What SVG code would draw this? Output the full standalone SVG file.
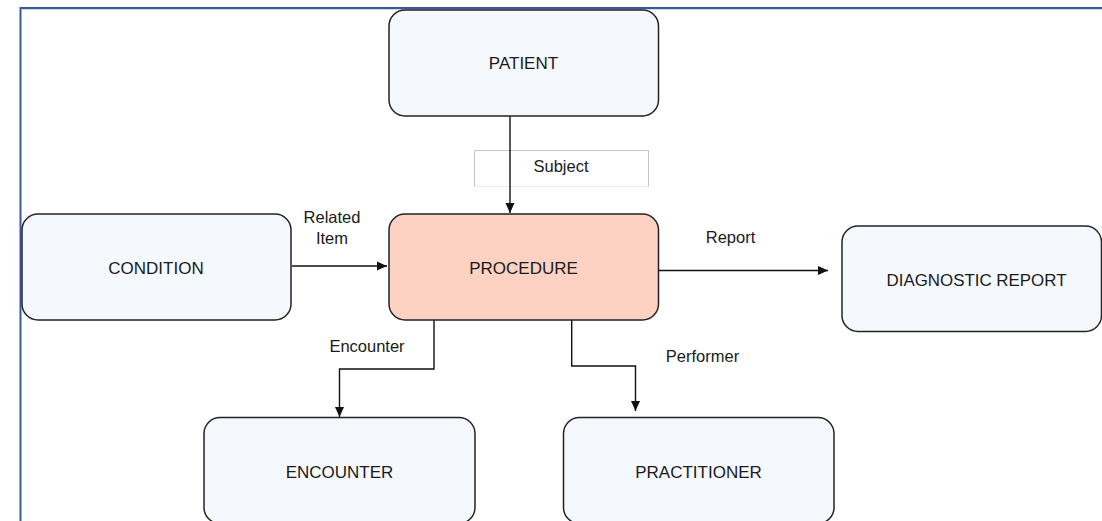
<svg xmlns="http://www.w3.org/2000/svg" width="1102" height="521" viewBox="0 0 1102 521">
  <defs>
    <marker id="arrow" viewBox="0 0 10 10" refX="10" refY="5" markerWidth="10" markerHeight="10" markerUnits="userSpaceOnUse" orient="auto">
      <path d="M0,0.5 L10,5 L0,9.5 z" fill="#111"/>
    </marker>
    <style>
      .node { fill: #F5F9FE; stroke: #222; stroke-width: 1.5; }
      .focus { fill: #FDD2C3; stroke: #222; stroke-width: 1.5; }
      .title { font-family: "Liberation Sans", Arial, sans-serif; font-size: 17px; fill: #1a1a1a; text-anchor: middle; }
      .label { font-family: "Liberation Sans", Arial, sans-serif; font-size: 16.5px; fill: #1a1a1a; text-anchor: middle; }
      .edge { fill: none; stroke: #111; stroke-width: 1.4; marker-end: url(#arrow); }
    </style>
  </defs>

  <rect width="1102" height="521" fill="#ffffff"/>

  <!-- outer frame -->
  <path d="M1102 9.5 H22" stroke="#C9D7EE" stroke-width="1" fill="none"/>
  <path d="M1102 8 H20.5 V521" stroke="#3C5A98" stroke-width="2" fill="none"/>

  <!-- caption box for the Subject link -->
  <g id="subject-caption">
    <rect x="474.5" y="150.5" width="174" height="36" fill="#ffffff" stroke="none"/>
    <path d="M474.5 186.5 V150.5 H648.5 V186.5" fill="none" stroke="#C4C4C4" stroke-width="1"/>
    <path d="M474.5 186.5 H648.5" fill="none" stroke="#EAEAEA" stroke-width="1"/>
  </g>

  <g id="connectors">
    <path class="edge" d="M510 116 V213"/>
    <path class="edge" d="M292 266 H387"/>
    <path class="edge" d="M658 270.5 H828"/>
    <path class="edge" d="M434 320 V369 H339.5 V417"/>
    <path class="edge" d="M571.7 320 V366 H635.5 V411"/>
    <text class="label" x="561" y="172">Subject</text>
    <text class="label" x="332" y="223">Related</text>
    <text class="label" x="332" y="244">Item</text>
    <text class="label" x="730.5" y="243">Report</text>
    <text class="label" x="367" y="352">Encounter</text>
    <text class="label" x="702.5" y="362">Performer</text>
  </g>

  <g id="patient">
    <rect class="node" x="389" y="10" width="269.5" height="106" rx="16"/>
    <text class="title" x="523.5" y="69">PATIENT</text>
  </g>

  <g id="procedure">
    <rect class="focus" x="389" y="214" width="269.5" height="106" rx="16"/>
    <text class="title" x="523.5" y="273.5">PROCEDURE</text>
  </g>

  <g id="condition">
    <rect class="node" x="22" y="214" width="269" height="106" rx="16"/>
    <text class="title" x="156" y="273.5">CONDITION</text>
  </g>

  <g id="diagnostic-report">
    <rect class="node" x="842" y="226" width="259.5" height="105.5" rx="16"/>
    <text class="title" x="976.5" y="286" textLength="180" lengthAdjust="spacingAndGlyphs">DIAGNOSTIC REPORT</text>
  </g>

  <g id="encounter">
    <rect class="node" x="204" y="417.5" width="271" height="106" rx="16"/>
    <text class="title" x="339.5" y="477.5">ENCOUNTER</text>
  </g>

  <g id="practitioner">
    <rect class="node" x="563.5" y="417.5" width="270.5" height="106" rx="16"/>
    <text class="title" x="698.5" y="477.5">PRACTITIONER</text>
  </g>
</svg>
